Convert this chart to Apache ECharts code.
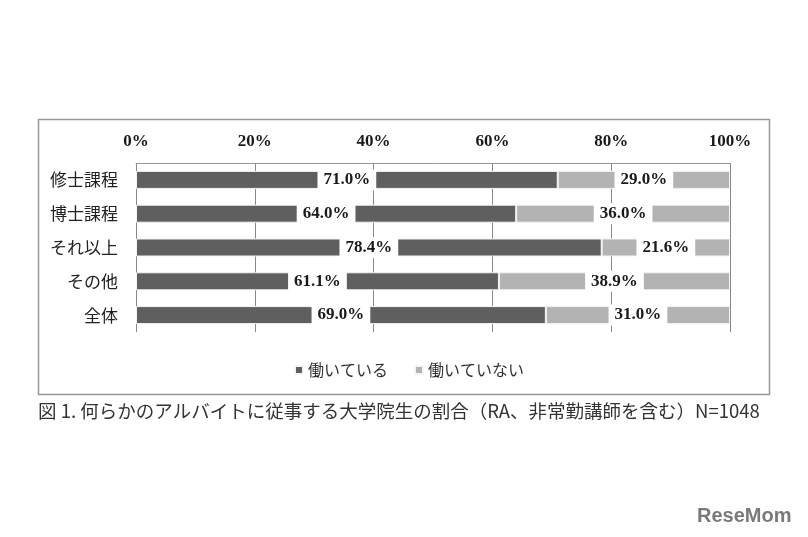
<!DOCTYPE html>
<html><head><meta charset="utf-8">
<script src="https://cdn.jsdelivr.net/npm/echarts@6/dist/echarts.min.js"></script>
<style>html,body{margin:0;padding:0;background:#fff}#c{width:808px;height:537px}</style>
</head><body><div id="c"></div>
<script>
const categories = ['修士課程','博士課程','それ以上','その他','全体'];
const working = [71.0, 64.0, 78.4, 61.1, 69.0];
const notWorking = [29.0, 36.0, 21.6, 38.9, 31.0];
const seriesNames = ['働いている','働いていない'];
const xTicks = [0,20,40,60,80,100];
const caption = '図 1. 何らかのアルバイトに従事する大学院生の割合（RA、非常勤講師を含む）N=1048';

const chart = echarts.init(document.getElementById('c'), null, {renderer:'canvas'});
const labelStyle = {
  show: true, position: 'inside',
  formatter: p => p.value.toFixed(1) + '%',
  backgroundColor: '#fff', padding: [2,6],
  color: '#1a1a1a', fontFamily: 'Liberation Serif', fontWeight: 'bold', fontSize: 17
};
chart.setOption({
  animation: false,
  grid: {left: 136, right: 78, top: 163, bottom: 205},
  legend: {
    data: seriesNames, left: 289, top: 357, itemWidth: 8, itemHeight: 8, icon: 'rect', itemGap: 26,
    textStyle: {fontFamily: 'Noto Sans CJK JP', fontSize: 16, color: '#333'}
  },
  xAxis: {
    type: 'value', position: 'top', min: 0, max: 100, interval: 20,
    axisLine: {show: true, lineStyle: {color: '#999'}},
    axisTick: {show: false},
    splitLine: {show: true, lineStyle: {color: '#888', width: 1}},
    axisLabel: {formatter: v => v + '%', margin: 13, color: '#1a1a1a',
      fontFamily: 'Liberation Serif', fontWeight: 'bold', fontSize: 17}
  },
  yAxis: {
    type: 'category', data: categories, inverse: true,
    axisLine: {show: false}, axisTick: {show: false},
    axisLabel: {margin: 18, color: '#222', fontFamily: 'Noto Sans CJK JP', fontSize: 17}
  },
  series: [
    {name: seriesNames[0], type: 'bar', stack: 't', data: working, barWidth: 18,
      itemStyle: {color: '#5f5f5f', borderColor: '#f4f4f4', borderWidth: 1}, label: labelStyle},
    {name: seriesNames[1], type: 'bar', stack: 't', data: notWorking, barWidth: 18,
      itemStyle: {color: '#b3b3b3', borderColor: '#f4f4f4', borderWidth: 1}, label: labelStyle}
  ],
  graphic: [
    {type: 'rect', shape: {x: 38.5, y: 119.5, width: 731, height: 275},
      style: {fill: 'none', stroke: '#999', lineWidth: 1.5}, silent: true, z: -1},
    {type: 'text', left: 38, top: 402,
      style: {text: caption, fontFamily: 'Noto Sans CJK JP', fontSize: 18.5, fill: '#333'}},
    {type: 'text', left: 697, top: 506,
      style: {text: 'ReseMom', fontFamily: 'Liberation Sans', fontWeight: 'bold', fontSize: 20, fill: '#7a7a7a'}}
  ]
});
</script></body></html>
